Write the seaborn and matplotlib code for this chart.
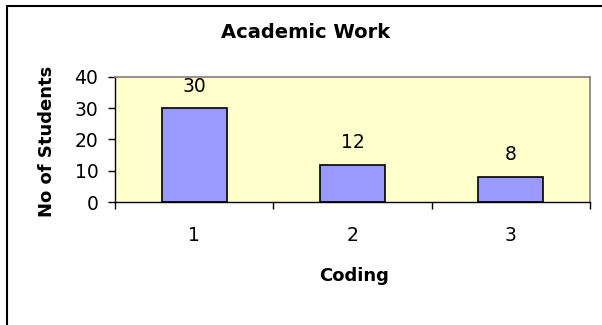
import seaborn as sns
import pandas as pd
import matplotlib.pyplot as plt
from matplotlib.lines import Line2D

# chart data
codes = ["1", "2", "3"]
students = [30, 12, 8]
yticks = [0, 10, 20, 30, 40]

sns.set_style("white")
plt.rcParams["font.family"] = ["DejaVu Sans"]
plt.rcParams["text.color"] = "black"
plt.rcParams["axes.labelcolor"] = "black"
plt.rcParams["xtick.color"] = "black"
plt.rcParams["ytick.color"] = "black"

df = pd.DataFrame({"Coding": codes, "No of Students": students})

fig = plt.figure(figsize=(6.02, 3.25), dpi=100)
ax = fig.add_axes([115 / 602, 1 - 202 / 325, 475 / 602, 125 / 325])
ax.set_facecolor("#ffffcc")

sns.barplot(data=df, x="Coding", y="No of Students", color="#9999ff",
            edgecolor="black", linewidth=1.2, width=0.41, saturation=1, ax=ax)

ax.set_ylim(0, 40)
ax.set_xlim(-0.5, 2.5)
ax.set_yticks(yticks)
ax.set_xticks([-0.5, 0.5, 1.5, 2.5], minor=True)
ax.tick_params(axis="y", which="major", direction="out", length=5, width=1,
               color="black", labelsize=13.5, pad=7, left=True)
ax.tick_params(axis="x", which="major", length=0, labelsize=13.5, pad=17)
ax.tick_params(axis="x", which="minor", direction="out", length=5, width=1,
               color="black", bottom=True)

for side in ["left", "bottom"]:
    ax.spines[side].set_color("black")
    ax.spines[side].set_linewidth(1)
for side in ["top", "right"]:
    ax.spines[side].set_color("#808080")
    ax.spines[side].set_linewidth(1.2)

ax.bar_label(ax.containers[0], fmt="%d", padding=9, fontsize=13.5)

ax.set_xlabel("Coding", fontsize=13, fontweight="bold", va="center")
ax.set_ylabel("No of Students", fontsize=13, fontweight="bold", va="center")
ax.xaxis.set_label_coords((354 - 115) / 475, -(276 - 202) / 125)
ax.yaxis.set_label_coords(-(115 - 47) / 475, (202 - 141) / 125)

fig.text(306 / 602, 1 - 32 / 325, "Academic Work", fontsize=14,
         fontweight="bold", ha="center", va="center")

# outer chart border (left and top edges visible)
fig.add_artist(Line2D([7 / 602, 7 / 602], [0, 1 - 6 / 325], color="black", lw=1.5))
fig.add_artist(Line2D([7 / 602, 1], [1 - 6 / 325, 1 - 6 / 325], color="black", lw=1.5))

fig.savefig("out.png", dpi=100)
